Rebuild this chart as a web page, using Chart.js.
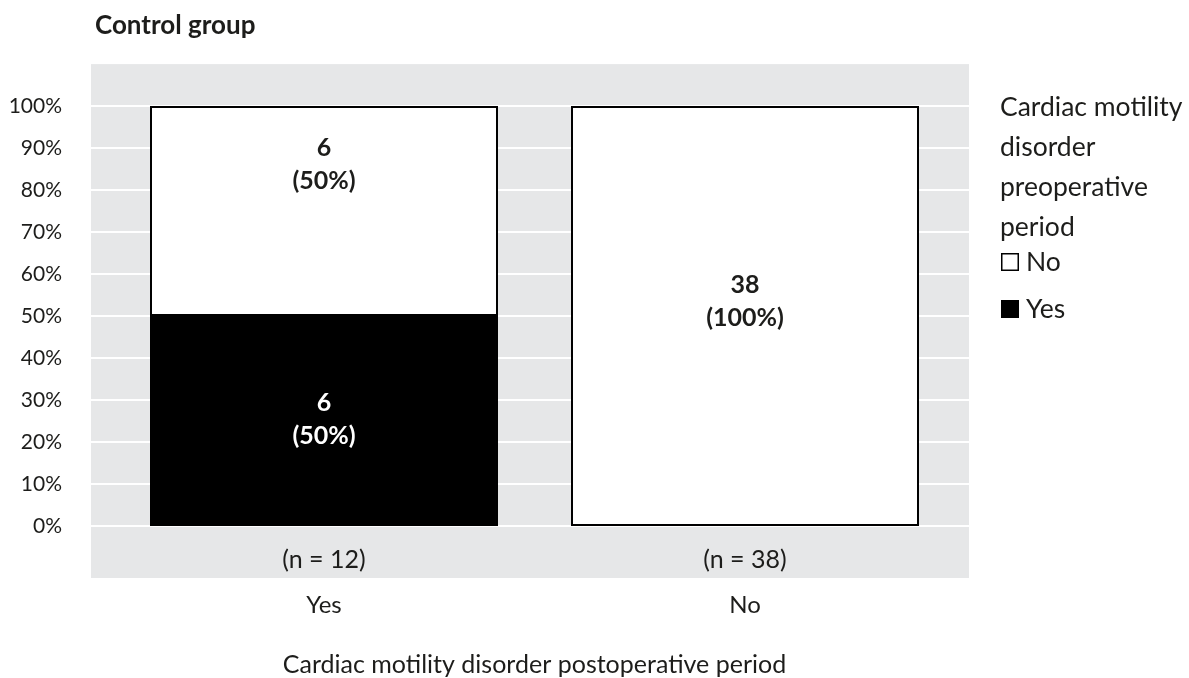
<!DOCTYPE html>
<html>
<head>
<meta charset="utf-8">
<script src="https://cdn.jsdelivr.net/npm/chart.js@4.4.0/dist/chart.umd.min.js"></script>
<style>
  html, body { margin: 0; padding: 0; background: #fff; }
</style>
</head>
<body>
<canvas id="chart" width="1189" height="678"></canvas>
<script>
// postoperative groups on the x axis
const categories = ['Yes', 'No'];
const groupSizes = [12, 38];
// preoperative disorder: counts and shares per group
const yesCounts = [6, 0];
const noCounts = [6, 38];
const yesPercent = [50, 0];
const noPercent = [50, 100];
const yTicks = [0, 10, 20, 30, 40, 50, 60, 70, 80, 90, 100];
// where the value labels sit, in % units
const yesLabelAt = [25.4, null];
const noLabelAt = [86, 53.5];
const nLabelAt = -8;
const legendTitle = ['Cardiac motility', 'disorder', 'preoperative', 'period'];

const FONT = 'Lato, "Open Sans", sans-serif';
const INK = '#1d1d1b';

// gray panel with white gridlines behind the bars
const backdrop = {
  id: 'backdrop',
  beforeDraw(chart) {
    const { ctx, chartArea: a, scales: { y } } = chart;
    const left = a.left - 22.5, right = a.right + 13.5;
    ctx.save();
    ctx.fillStyle = '#e6e7e8';
    ctx.fillRect(left, a.top, right - left, a.bottom - a.top);
    ctx.strokeStyle = '#ffffff';
    ctx.lineWidth = 2;
    y.ticks.forEach(t => {
      const py = Math.round(y.getPixelForValue(t.value));
      ctx.beginPath();
      ctx.moveTo(left, py);
      ctx.lineTo(right, py);
      ctx.stroke();
    });
    ctx.restore();
  }
};

// counts + percentages inside bars, group sizes, title and legend
const annotations = {
  id: 'annotations',
  afterDraw(chart) {
    const { ctx, scales: { x, y } } = chart;
    const sets = [
      { counts: yesCounts, pct: yesPercent, at: yesLabelAt, color: '#ffffff' },
      { counts: noCounts, pct: noPercent, at: noLabelAt, color: INK }
    ];
    ctx.save();
    ctx.textAlign = 'center';
    ctx.textBaseline = 'middle';
    ctx.font = 'bold 25px ' + FONT;
    sets.forEach((s, i) => {
      const meta = chart.getDatasetMeta(i);
      meta.data.forEach((bar, j) => {
        if (!s.counts[j]) return;
        const py = y.getPixelForValue(s.at[j]);
        ctx.fillStyle = s.color;
        ctx.fillText(String(s.counts[j]), bar.x, py - 16.5);
        ctx.fillText('(' + s.pct[j] + '%)', bar.x, py + 16.5);
      });
    });

    ctx.font = '25px ' + FONT;
    ctx.fillStyle = INK;
    categories.forEach((c, j) => {
      ctx.fillText('(n = ' + groupSizes[j] + ')', x.getPixelForValue(j), y.getPixelForValue(nLabelAt));
    });

    ctx.textAlign = 'left';
    ctx.font = 'bold 26px ' + FONT;
    ctx.fillText('Control group', 95, 26);

    // legend
    ctx.font = '26.5px ' + FONT;
    legendTitle.forEach((line, k) => ctx.fillText(line, 1000, 107 + k * 40));
    const items = chart.data.datasets.slice().reverse();
    items.forEach((ds, k) => {
      const cy = 262 + k * 47;
      ctx.fillStyle = ds.backgroundColor;
      ctx.fillRect(1001, cy - 9, 18, 18);
      ctx.strokeStyle = '#000';
      ctx.lineWidth = 1.5;
      ctx.strokeRect(1001.75, cy - 8.25, 16.5, 16.5);
      ctx.fillStyle = INK;
      ctx.fillText(ds.label, 1026, cy);
    });
    ctx.restore();
  }
};

new Chart(document.getElementById('chart'), {
  type: 'bar',
  data: {
    labels: categories,
    datasets: [
      {
        label: 'Yes',
        data: yesPercent,
        backgroundColor: '#000000',
        borderColor: '#000000',
        borderWidth: 2,
        borderSkipped: false
      },
      {
        label: 'No',
        data: noPercent,
        backgroundColor: '#ffffff',
        borderColor: '#000000',
        borderWidth: 2,
        borderSkipped: false
      }
    ]
  },
  options: {
    responsive: false,
    animation: false,
    devicePixelRatio: 1,
    layout: { padding: { left: 0, right: 233.5, top: 64, bottom: 0 } },
    datasets: { bar: { categoryPercentage: 1, barPercentage: 0.8266 } },
    plugins: {
      legend: { display: false },
      title: { display: false },
      tooltip: { enabled: false }
    },
    scales: {
      x: {
        stacked: true,
        grid: { display: false, drawTicks: false },
        border: { display: false },
        ticks: { color: INK, font: { family: FONT, size: 24 }, padding: 12.6 },
        title: {
          display: true,
          text: 'Cardiac motility disorder postoperative period',
          color: INK,
          font: { family: FONT, size: 25, lineHeight: 1.04 },
          padding: { top: 0, bottom: 0 }
        },
        afterFit(scale) { scale.height = 100; }
      },
      y: {
        stacked: true,
        min: -12.4,
        max: 110,
        grid: { display: false, drawTicks: false },
        border: { display: false },
        afterBuildTicks(scale) { scale.ticks = yTicks.map(v => ({ value: v })); },
        ticks: {
          color: INK,
          font: { family: FONT, size: 21 },
          padding: 51.5,
          callback: v => v + '%'
        },
        afterFit(scale) { scale.width = 113.5; }
      }
    }
  },
  plugins: [backdrop, annotations]
});
</script>
</body>
</html>
